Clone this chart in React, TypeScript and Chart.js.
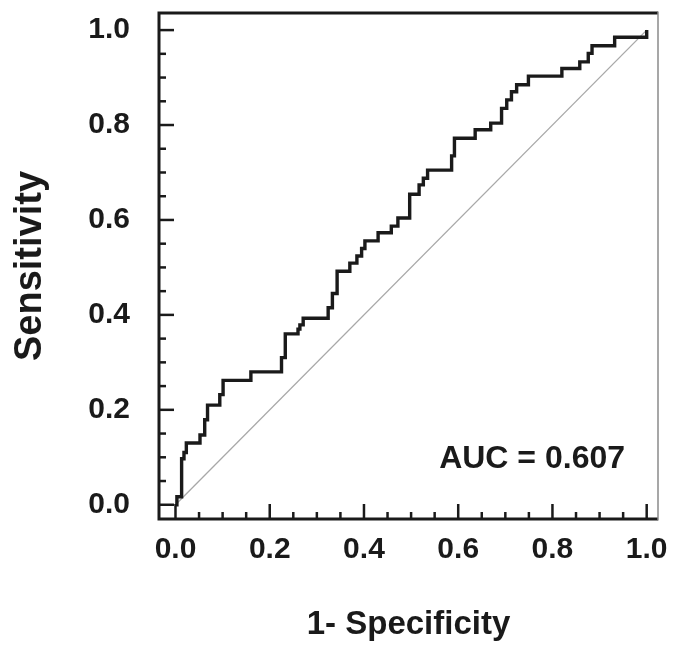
import { useEffect, useRef } from "react";
import { Chart, registerables } from "chart.js";

Chart.register(...registerables);

// ROC curve vertices (1 - specificity, sensitivity)
const fpr = [0, 0.003, 0.013, 0.018, 0.023, 0.052, 0.062, 0.068, 0.094, 0.101, 0.16, 0.225, 0.233, 0.26, 0.264, 0.271, 0.324, 0.333, 0.343, 0.37, 0.385, 0.395, 0.402, 0.43, 0.458, 0.472, 0.497, 0.517, 0.526, 0.535, 0.586, 0.592, 0.636, 0.669, 0.692, 0.703, 0.713, 0.724, 0.749, 0.82, 0.858, 0.876, 0.884, 0.932, 1.0];
const tpr = [0, 0.017, 0.097, 0.11, 0.13, 0.147, 0.179, 0.21, 0.232, 0.262, 0.28, 0.31, 0.36, 0.37, 0.379, 0.393, 0.415, 0.445, 0.492, 0.509, 0.524, 0.54, 0.556, 0.573, 0.587, 0.604, 0.654, 0.674, 0.688, 0.705, 0.735, 0.772, 0.79, 0.804, 0.835, 0.853, 0.87, 0.885, 0.903, 0.919, 0.933, 0.951, 0.967, 0.985, 1.0];

// reference (chance) line
const diagX = [0, 1];
const diagY = [0, 1];

// axis ticks
const majorTicks = [0, 0.2, 0.4, 0.6, 0.8, 1.0];
const minorTicks = [0, 0.05, 0.1, 0.15, 0.2, 0.25, 0.3, 0.35, 0.4, 0.45, 0.5, 0.55, 0.6, 0.65, 0.7, 0.75, 0.8, 0.85, 0.9, 0.95, 1.0];

const aucLabel = "AUC = 0.607";
const aucPos = { x: 0.954, y: 0.097 };

const FONT = '"Liberation Sans", Arial, Helvetica, sans-serif';
const INK = "#1a1a1a";

const decor = {
  id: "decor",
  afterDatasetsDraw(chart: any) {
    const { ctx, chartArea: a, scales } = chart;
    const xs = scales.x;
    const ys = scales.y;
    ctx.save();
    ctx.strokeStyle = INK;
    ctx.lineWidth = 2.5;
    ctx.lineCap = "butt";
    for (const v of minorTicks) {
      const major = majorTicks.some((m) => Math.abs(m - v) < 1e-9);
      const len = major ? 15 : 7;
      const px = xs.getPixelForValue(v);
      ctx.beginPath();
      ctx.moveTo(px, a.bottom);
      ctx.lineTo(px, a.bottom - len);
      ctx.stroke();
      const py = ys.getPixelForValue(v);
      ctx.beginPath();
      ctx.moveTo(a.left, py);
      ctx.lineTo(a.left + len, py);
      ctx.stroke();
    }
    // frame
    ctx.lineWidth = 3;
    ctx.strokeStyle = INK;
    ctx.beginPath();
    ctx.moveTo(a.right, a.top);
    ctx.lineTo(a.left, a.top);
    ctx.lineTo(a.left, a.bottom);
    ctx.lineTo(a.right, a.bottom);
    ctx.stroke();
    ctx.lineWidth = 1.5;
    ctx.strokeStyle = "#8a8a8a";
    ctx.beginPath();
    ctx.moveTo(a.right, a.top - 1.5);
    ctx.lineTo(a.right, a.bottom + 1.5);
    ctx.stroke();
    // AUC annotation
    ctx.font = `bold 32px ${FONT}`;
    ctx.fillStyle = INK;
    ctx.textAlign = "right";
    ctx.textBaseline = "middle";
    ctx.fillText(aucLabel, xs.getPixelForValue(aucPos.x), ys.getPixelForValue(aucPos.y));
    ctx.restore();
  },
};

export default function App() {
  const ref = useRef<HTMLCanvasElement | null>(null);

  useEffect(() => {
    const canvas = ref.current;
    if (!canvas) return;
    const chart = new Chart(canvas, {
      type: "scatter",
      data: {
        datasets: [
          {
            label: "Reference",
            data: diagX.map((x, i) => ({ x, y: diagY[i] })),
            showLine: true,
            borderColor: "#a8a8a8",
            borderWidth: 1.3,
            pointRadius: 0,
            order: 2,
          },
          {
            label: "ROC",
            data: fpr.map((x, i) => ({ x, y: tpr[i] })),
            showLine: true,
            stepped: "before",
            borderColor: INK,
            borderWidth: 3.4,
            borderJoinStyle: "miter",
            pointRadius: 0,
            order: 1,
          },
        ],
      },
      options: {
        animation: false,
        responsive: false,
        devicePixelRatio: 1,
        layout: { padding: { top: 13, right: 24, left: 0, bottom: 0 } },
        plugins: { legend: { display: false }, tooltip: { enabled: false } },
        scales: {
          x: {
            type: "linear",
            min: -0.035,
            max: 1.024,
            afterFit: (s: any) => {
              s.height = 138;
            },
            afterBuildTicks: (s: any) => {
              s.ticks = majorTicks.map((v) => ({ value: v }));
            },
            grid: { display: false, drawTicks: false },
            border: { display: false },
            ticks: {
              padding: 13,
              color: INK,
              font: { family: FONT, size: 30, weight: "bold" },
              callback: (v: any) => Number(v).toFixed(1),
            },
            title: {
              display: true,
              text: "1- Specificity",
              color: INK,
              font: { family: FONT, size: 33, weight: "bold" },
              padding: { top: 0, bottom: 12 },
            },
          },
          y: {
            type: "linear",
            min: -0.03,
            max: 1.036,
            afterFit: (s: any) => {
              s.width = 159;
            },
            afterBuildTicks: (s: any) => {
              s.ticks = majorTicks.map((v) => ({ value: v }));
            },
            grid: { display: false, drawTicks: true, tickLength: 29 },
            border: { display: false },
            ticks: {
              padding: 0,
              color: INK,
              font: { family: FONT, size: 30, weight: "bold", lineHeight: 0.8 },
              callback: (v: any) => Number(v).toFixed(1),
            },
            title: {
              display: true,
              text: "Sensitivity",
              color: INK,
              font: { family: FONT, size: 38, weight: "bold" },
              padding: { top: 8, bottom: 0 },
            },
          },
        },
      },
      plugins: [decor],
    });
    return () => chart.destroy();
  }, []);

  return (
    <div style={{ position: "fixed", left: 0, top: 0, width: 682, height: 657, background: "#fff" }}>
      <canvas ref={ref} width={682} height={657} style={{ display: "block" }} />
    </div>
  );
}
